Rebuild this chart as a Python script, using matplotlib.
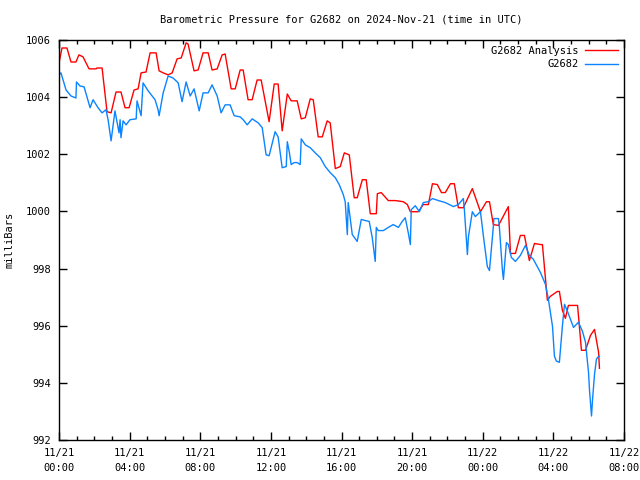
import matplotlib
matplotlib.use("Agg")
import matplotlib.pyplot as plt
from matplotlib.ticker import MultipleLocator

# hours since 2024-11-21 00:00 UTC and pressure in mb
analysis_hours = [0.00, 0.17, 0.45, 0.68, 0.96, 1.13, 1.36, 1.70, 2.10, 2.15, 2.44, 2.72, 2.95, 3.23,
                  3.51, 3.74, 3.97, 4.25, 4.48, 4.65, 4.93, 5.16, 5.50, 5.67, 5.90, 6.18, 6.41, 6.69,
                  6.92, 7.20, 7.31, 7.65, 7.88, 8.16, 8.45, 8.67, 8.96, 9.24, 9.41, 9.75, 9.98, 10.26,
                  10.43, 10.71, 10.94, 11.22, 11.45, 11.90, 12.19, 12.41, 12.64, 12.93, 13.15, 13.49,
                  13.72, 13.95, 14.23, 14.40, 14.68, 14.91, 15.19, 15.36, 15.65, 15.93, 16.16, 16.44,
                  16.72, 16.89, 17.18, 17.40, 17.63, 17.97, 18.03, 18.25, 18.65, 19.05, 19.50, 19.73,
                  19.90, 20.35, 20.63, 20.92, 21.15, 21.43, 21.66, 21.88, 22.17, 22.39, 22.62, 22.90,
                  23.41, 23.87, 24.21, 24.38, 24.60, 24.89, 25.45, 25.57, 25.85, 26.13, 26.36, 26.64,
                  26.93, 27.27, 27.38, 27.66, 27.83, 28.23, 28.34, 28.51, 28.68, 28.85, 29.37, 29.59,
                  29.82, 30.10, 30.33, 30.56, 30.61]
analysis_mb = [1005.20, 1005.72, 1005.72, 1005.23, 1005.23, 1005.48, 1005.41, 1004.99, 1004.99, 1005.02,
               1005.02, 1003.49, 1003.45, 1004.18, 1004.18, 1003.63, 1003.63, 1004.25, 1004.29, 1004.85,
               1004.88, 1005.55, 1005.55, 1004.92, 1004.85, 1004.78, 1004.85, 1005.34, 1005.37, 1005.90,
               1005.86, 1004.92, 1004.95, 1005.55, 1005.55, 1004.95, 1004.99, 1005.48, 1005.51, 1004.29,
               1004.29, 1004.95, 1004.95, 1003.91, 1003.91, 1004.60, 1004.60, 1003.14, 1004.46, 1004.46,
               1002.82, 1004.11, 1003.87, 1003.87, 1003.24, 1003.28, 1003.94, 1003.91, 1002.61, 1002.61,
               1003.17, 1003.10, 1001.50, 1001.57, 1002.05, 1001.98, 1000.48, 1000.48, 1001.11, 1001.11,
               999.92, 999.92, 1000.62, 1000.66, 1000.38, 1000.38, 1000.34, 1000.24, 999.99, 999.99,
               1000.24, 1000.24, 1000.97, 1000.94, 1000.66, 1000.66, 1000.97, 1000.97, 1000.13, 1000.13,
               1000.80, 999.99, 1000.34, 1000.34, 999.54, 999.51, 1000.17, 998.53, 998.53, 999.16,
               999.16, 998.28, 998.88, 998.84, 998.84, 996.89, 997.03, 997.20, 997.20, 996.54,
               996.26, 996.71, 996.71, 995.14, 995.14, 995.66, 995.87, 995.07, 994.51]

station_hours = [0.00, 0.11, 0.40, 0.68, 0.96, 0.99, 1.19, 1.42, 1.76, 1.93, 2.21, 2.44, 2.66, 2.78,
                 2.95, 3.17, 3.40, 3.46, 3.51, 3.63, 3.80, 4.02, 4.37, 4.42, 4.65, 4.76, 5.05, 5.44,
                 5.61, 5.67, 5.90, 6.18, 6.46, 6.75, 6.97, 7.20, 7.43, 7.65, 7.94, 8.16, 8.45, 8.67,
                 8.96, 9.18, 9.41, 9.69, 9.92, 10.26, 10.43, 10.66, 10.94, 11.11, 11.28, 11.51, 11.73,
                 11.90, 12.24, 12.41, 12.64, 12.87, 12.93, 13.04, 13.15, 13.32, 13.49, 13.66, 13.72,
                 13.95, 14.23, 14.51, 14.80, 15.08, 15.36, 15.65, 15.87, 16.10, 16.21, 16.33, 16.38,
                 16.50, 16.61, 16.89, 17.12, 17.35, 17.57, 17.74, 17.91, 17.97, 18.08, 18.37, 18.65,
                 18.93, 19.22, 19.44, 19.61, 19.78, 19.90, 19.95, 20.18, 20.41, 20.63, 20.92, 21.15,
                 21.49, 21.88, 22.34, 22.62, 22.90, 22.96, 23.07, 23.13, 23.19, 23.41, 23.58, 23.87,
                 24.04, 24.26, 24.38, 24.60, 24.63, 24.89, 24.94, 25.11, 25.17, 25.34, 25.45, 25.62,
                 25.85, 26.13, 26.42, 26.64, 26.87, 27.27, 27.55, 27.72, 27.95, 28.06, 28.17, 28.34,
                 28.51, 28.63, 28.80, 29.14, 29.42, 29.65, 29.82, 29.99, 30.05, 30.16, 30.22, 30.33,
                 30.44, 30.56, 30.61]
station_mb = [1004.78, 1004.85, 1004.25, 1004.04, 1003.97, 1004.53, 1004.39, 1004.36, 1003.63, 1003.91,
              1003.63, 1003.45, 1003.56, 1003.21, 1002.47, 1003.52, 1002.75, 1003.21, 1002.58, 1003.17,
              1003.03, 1003.21, 1003.24, 1003.87, 1003.35, 1004.50, 1004.22, 1003.91, 1003.56, 1003.35,
              1004.15, 1004.74, 1004.67, 1004.50, 1003.84, 1004.53, 1004.04, 1004.29, 1003.52, 1004.15,
              1004.15, 1004.43, 1004.04, 1003.45, 1003.73, 1003.73, 1003.35, 1003.31, 1003.21, 1003.03,
              1003.24, 1003.17, 1003.10, 1002.93, 1001.98, 1001.95, 1002.79, 1002.61, 1001.53, 1001.57,
              1002.44, 1002.09, 1001.64, 1001.71, 1001.71, 1001.64, 1002.54, 1002.33, 1002.23, 1002.05,
              1001.88, 1001.57, 1001.36, 1001.18, 1000.94, 1000.59, 1000.34, 999.19, 1000.31, 999.72,
              999.19, 998.95, 999.72, 999.68, 999.65, 999.09, 998.25, 999.44, 999.33, 999.33,
              999.44, 999.54, 999.44, 999.65, 999.78, 999.26, 998.84, 1000.06, 1000.20, 999.99,
              1000.31, 1000.34, 1000.45, 1000.38, 1000.31, 1000.17, 1000.24, 1000.45, 1000.06, 999.02,
              998.49, 999.12, 999.99, 999.82, 999.99, 999.12, 998.07, 997.93, 999.47, 999.75,
              999.75, 999.47, 997.97, 997.62, 998.91, 998.84, 998.39, 998.25, 998.46, 998.81,
              998.46, 998.32, 997.86, 997.45, 996.92, 995.98, 994.93, 994.76, 994.72, 995.98,
              996.75, 996.50, 995.94, 996.12, 995.80, 995.42, 994.37, 993.71, 992.84, 993.43,
              994.30, 994.83, 994.93, 994.93]

tick_hours = [0, 4, 8, 12, 16, 20, 24, 28, 32]
tick_labels = ["11/21\n00:00", "11/21\n04:00", "11/21\n08:00", "11/21\n12:00", "11/21\n16:00",
               "11/21\n20:00", "11/22\n00:00", "11/22\n04:00", "11/22\n08:00"]

plt.rcParams['font.family'] = 'DejaVu Sans Mono'
plt.rcParams['font.size'] = 7.5

fig = plt.figure(figsize=(6.4, 4.8), dpi=100)
ax = fig.add_axes([59 / 640, 40 / 480, 565 / 640, 400 / 480])

ax.plot(analysis_hours, analysis_mb, color='#ff0000', lw=1.0, label='G2682 Analysis')
ax.plot(station_hours, station_mb, color='#0a84ff', lw=1.0, label='G2682')

ax.set_xlim(0, 32)
ax.set_ylim(992, 1006)
ax.set_xticks(tick_hours)
ax.set_xticklabels(tick_labels, linespacing=1.6)
ax.xaxis.set_minor_locator(MultipleLocator(1))
ax.yaxis.set_major_locator(MultipleLocator(2))

ax.tick_params(which='both', direction='in', top=True, right=True, width=1)
ax.tick_params(which='major', length=6, pad=6)
ax.tick_params(which='minor', length=3)
for s in ax.spines.values():
    s.set_linewidth(1.0)

ax.set_ylabel('milliBars')
ax.yaxis.set_label_coords(-0.078, 0.5)

fig.text(341 / 640, 1 - 20 / 480, 'Barometric Pressure for G2682 on 2024-Nov-21 (time in UTC)',
         ha='center', va='center')

ax.legend(loc='upper right', frameon=False, markerfirst=False, handlelength=3.2,
          labelspacing=0.35, borderaxespad=0.15, handletextpad=0.6)

fig.savefig('out.png', dpi=100)
